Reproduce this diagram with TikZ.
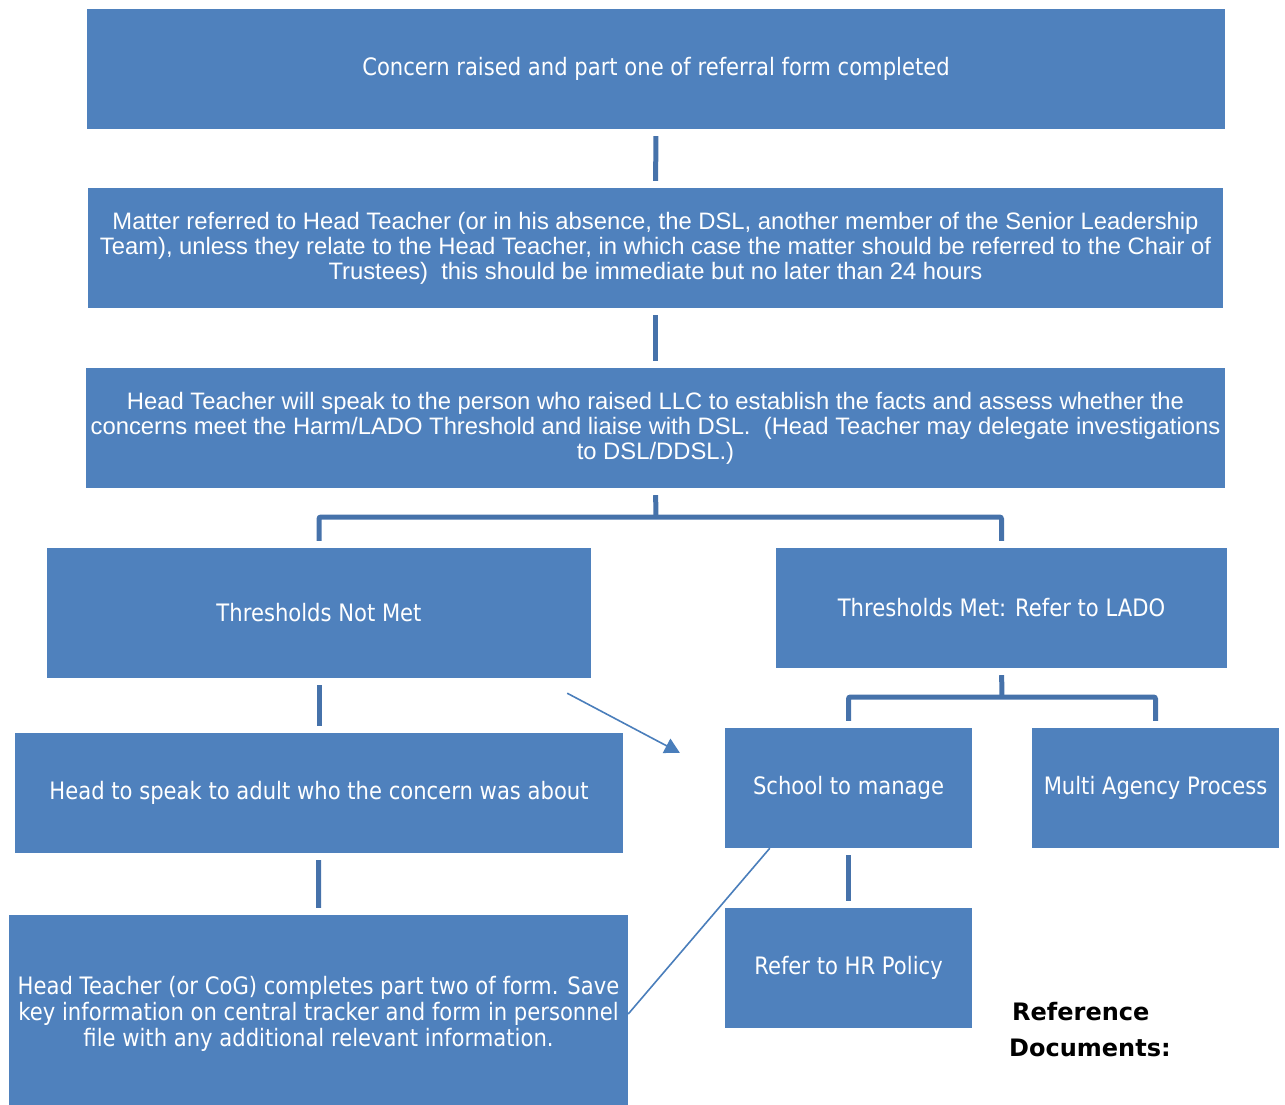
\documentclass[tikz,border=0pt]{standalone}
\usepackage{fontspec}
\setmainfont{Liberation Sans}
\newfontfamily\tahoma[FakeStretch=0.88]{DejaVu Sans}
\newfontfamily\verdanab{DejaVu Sans Bold}
\usetikzlibrary{arrows.meta}

\definecolor{boxblue}{HTML}{4F81BD}
\definecolor{lineblue}{HTML}{4672AA}
\definecolor{arrowblue}{HTML}{4A7EBB}

\tikzset{
  box/.style={fill=boxblue, text=white, inner sep=0pt, align=center,
    font=\tahoma\fontsize{24}{26}\selectfont},
  arialbox/.style={box, font=\fontsize{23.8}{25}\selectfont},
  conn/.style={draw=lineblue, line width=5pt, shorten <=7pt, shorten >=7pt},
  thinline/.style={draw=arrowblue, line width=1.6pt},
}

\begin{document}
\begin{tikzpicture}[x=1pt,y=-1pt]

\useasboundingbox (0,0) rectangle (1285,1104);

% Main column
\node[box, minimum width=1138pt, minimum height=120pt] (concern) at (656,69)
  {Concern raised and part one of referral form completed};
\node[arialbox, minimum width=1135pt, minimum height=120pt] (matter) at (655.5,248)
  {Matter referred to Head Teacher (or in his absence, the DSL, another member of the Senior Leadership\\
   Team), unless they relate to the Head Teacher, in which case the matter should be referred to the Chair of\\
   Trustees)\ \ this should be immediate but no later than 24 hours};
\node[arialbox, minimum width=1139pt, minimum height=120pt] (facts) at (655.5,428)
  {Head Teacher will speak to the person who raised LLC to establish the facts and assess whether the\\
   concerns meet the Harm/LADO Threshold and liaise with DSL.\ \ (Head Teacher may delegate investigations\\
   to DSL/DDSL.)};

% Left branch
\node[box, minimum width=544pt, minimum height=130pt] (notmet) at (319,613) {Thresholds Not Met};
\node[box, minimum width=608pt, minimum height=120pt] (adult) at (319,793)
  {Head to speak to adult who the concern was about};
\node[box, minimum width=619pt, minimum height=198pt] (record) at (318.5,1014)
  {Head Teacher (or CoG) completes part two of form. Save\\
   key information on central tracker and form in personnel\\
   file with any additional relevant information.};

% Right branch
\node[box, minimum width=451pt, minimum height=120pt] (met) at (1001.5,608) {Thresholds Met: Refer to LADO};
\node[box, minimum width=247pt, minimum height=120pt] (school) at (848.5,788) {School to manage};
\node[box, minimum width=247pt, minimum height=120pt] (multi) at (1155.5,788) {Multi Agency Process};
\node[box, minimum width=247pt, minimum height=120pt] (hr) at (848.5,968) {Refer to HR Policy};

% Reference documents
\node[anchor=west, inner sep=0pt, align=left, font=\verdanab\fontsize{24}{36}\selectfont] (refdocs) at (1009,1030)
  {\hspace{3pt}Reference\\Documents:};

% Connectors
\coordinate (split1) at (656,517);
\coordinate (split2) at (1002,697);

\draw[conn] (concern) -- (matter);
\draw[conn] (matter) -- (facts);
\draw[conn, shorten >=0pt] (facts.south) -- (split1);
\draw[conn, rounded corners=2pt] (notmet.north) |- (split1) -| (met.north);
\draw[conn] (notmet) -- (adult);
\draw[conn] (adult) -- (record.north);
\draw[conn, shorten >=0pt] (met.south) -- (split2);
\draw[conn, rounded corners=2pt] (school.north) |- (split2) -| (multi.north);
\draw[conn] (school) -- (hr);

% Thin links
\draw[thinline, -{Triangle[length=15pt,width=16pt]}]
  ([shift={(-24,15)}]notmet.south east) -- ([shift={(-45,25)}]school.north west);
\draw[thinline] (record.east) -- ([xshift=45pt]school.south west);

\end{tikzpicture}
\end{document}
